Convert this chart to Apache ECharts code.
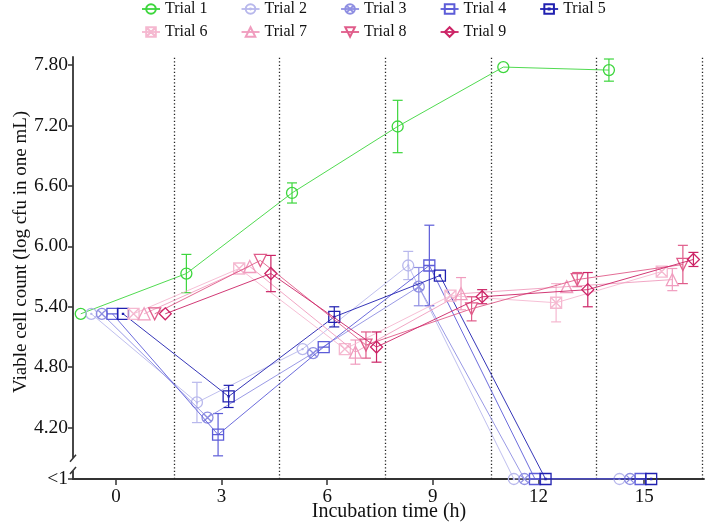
<!DOCTYPE html>
<html>
<head>
<meta charset="utf-8">
<script src="https://cdn.jsdelivr.net/npm/echarts@6/dist/echarts.min.js"></script>
<style>
html,body{margin:0;padding:0;background:#fff;}
#chart{width:709px;height:526px;}
</style>
</head>
<body>
<div id="chart"></div>
<script>
var times = [0, 3, 6, 9, 12, 15];
var LT1 = 3.69; // value drawn as "<1" on the y axis
var names = ['Trial 1','Trial 2','Trial 3','Trial 4','Trial 5','Trial 6','Trial 7','Trial 8','Trial 9'];

var trial1 = [5.33, 5.73, 6.53, 7.19, 7.78, 7.75];
var trial2 = [5.33, 4.45, 4.98, 5.81, LT1, LT1];
var trial3 = [5.33, 4.30, 4.94, 5.60, LT1, LT1];
var trial4 = [5.33, 4.13, 5.00, 5.81, LT1, LT1];
var trial5 = [5.33, 4.51, 5.30, 5.71, LT1, LT1];
var trial6 = [5.33, 5.78, 4.98, 5.51, 5.44, 5.75];
var trial7 = [5.33, 5.80, 4.95, 5.53, 5.60, 5.67];
var trial8 = [5.33, 5.86, 5.02, 5.38, 5.67, 5.82];
var trial9 = [5.33, 5.73, 5.00, 5.50, 5.57, 5.87];

var err1 = [0, 0.19, 0.10, 0.26, 0, 0.11];
var err2 = [0, 0.20, 0, 0.14, 0, 0];
var err3 = [0, 0, 0, 0.19, 0, 0];
var err4 = [0, 0.21, 0, 0.40, 0, 0];
var err5 = [0, 0.11, 0.10, 0, 0, 0];
var err6 = [0, 0, 0, 0, 0.19, 0];
var err7 = [0, 0, 0.12, 0.16, 0, 0.11];
var err8 = [0, 0, 0.13, 0.12, 0.07, 0.19];
var err9 = [0, 0.18, 0.15, 0.07, 0.17, 0.07];

var yTicks = [LT1, 4.2, 4.8, 5.4, 6.0, 6.6, 7.2, 7.8];
var xTicks = [0, 3, 6, 9, 12, 15];
var dividers = [1.65, 4.65, 7.65, 10.65, 13.65, 16.65];

var values = [trial1,trial2,trial3,trial4,trial5,trial6,trial7,trial8,trial9];
var errors = [err1,err2,err3,err4,err5,err6,err7,err8,err9];
var colors = ['#3dd63d','#b8b8ec','#8e8ee2','#5c5cd8','#2020b0','#f5b8d0','#f09cbe','#e05c8a','#cc2466'];

var circ = 'M0,10A10,10,0,1,0,20,10A10,10,0,1,0,0,10Z';
var sq = 'M0,0H20V20H0Z';
var symbols = [
	'path://' + circ,
	'path://' + circ + 'M9,10A1,1,0,1,0,11,10A1,1,0,1,0,9,10Z',
	'path://' + circ + 'M2.93,2.93L17.07,17.07M17.07,2.93L2.93,17.07',
	'path://' + sq + 'M0,10H20',
	'path://' + sq + 'M9,9H11V11H9Z',
	'path://' + sq + 'M0,0L20,20M20,0L0,20',
	'path://M10,0L20,17.3L0,17.3Z',
	'path://M0,0L20,0L10,17.3Z',
	'path://M10,0L20,10L10,20L0,10Z'
];

var font = 'Liberation Serif';
var series = [];
for (var i = 0; i < 9; i++) {
	var pts = [], bars = [];
	for (var j = 0; j < times.length; j++) {
		var x = times[j] - 1 + i * 0.3;   // dodge trials inside each time group
		pts.push([x, values[i][j]]);
		if (errors[i][j] > 0) bars.push([x, values[i][j], errors[i][j]]);
	}
	var s = {
		name: names[i],
		type: 'line',
		data: pts,
		symbol: symbols[i],
		symbolSize: (i >= 6 ? 12 : 11),
		z: 3 + i,
		lineStyle: {color: colors[i], width: 1, opacity: 0.9},
		itemStyle: {color: 'rgba(255,255,255,0)', borderColor: colors[i], borderWidth: 1.3},
		emphasis: {disabled: true},
		animation: false
	};
	if (i === 0) {
		s.markLine = {
			silent: true,
			symbol: ['none', 'none'],
			label: {show: false},
			lineStyle: {color: '#222', type: [1.3, 2.2], width: 1.3},
			data: dividers.map(function (d) { return {xAxis: d}; })
		};
	}
	series.push(s);
	series.push({
		type: 'custom',
		data: bars,
		z: 2 + i,
		silent: true,
		animation: false,
		renderItem: (function (c) {
			return function (params, api) {
				var x = api.value(0), y = api.value(1), e = api.value(2);
				var top = api.coord([x, y + e]);
				var bot = api.coord([x, y - e]);
				var st = {stroke: c, lineWidth: 1.2};
				return {type: 'group', children: [
					{type: 'line', shape: {x1: top[0], y1: top[1], x2: bot[0], y2: bot[1]}, style: st},
					{type: 'line', shape: {x1: top[0] - 5, y1: top[1], x2: top[0] + 5, y2: top[1]}, style: st},
					{type: 'line', shape: {x1: bot[0] - 5, y1: bot[1], x2: bot[0] + 5, y2: bot[1]}, style: st}
				]};
			};
		})(colors[i])
	});
}

var legendCommon = {
	left: 141,
	padding: 0,
	itemWidth: 18,
	itemHeight: 12,
	itemGap: 33,
	textStyle: {fontFamily: font, fontSize: 16, color: '#111'},
	selectedMode: false
};

var myChart = echarts.init(document.getElementById('chart'));
var option = {
	backgroundColor: '#fff',
	animation: false,
	grid: {left: 73, right: 5, top: 57, bottom: 47},
	legend: [
		Object.assign({}, legendCommon, {top: 1, data: names.slice(0, 5)}),
		Object.assign({}, legendCommon, {top: 24, data: names.slice(5)})
	],
	xAxis: {
		type: 'value',
		min: -1.22,
		max: 16.7,
		splitLine: {show: false},
		axisLine: {onZero: false, lineStyle: {color: '#333', width: 1.8}},
		axisTick: {length: 6, customValues: xTicks, lineStyle: {color: '#333', width: 1.5}},
		axisLabel: {customValues: xTicks, fontFamily: font, fontSize: 19, color: '#111', margin: 9}
	},
	yAxis: {
		type: 'value',
		min: LT1,
		max: 7.88,
		splitLine: {show: false},
		axisLine: {show: true, onZero: false, lineStyle: {color: '#333', width: 1.8}},
		axisTick: {show: true, length: 5, customValues: yTicks, lineStyle: {color: '#333', width: 1.5}},
		axisLabel: {
			customValues: yTicks, fontFamily: font, fontSize: 19.5, color: '#111', margin: 5,
			formatter: function (v) { return v < 4 ? '<1' : v.toFixed(2); }
		}
	},
	series: series
};
myChart.setOption(option);

// axis break marks and axis titles
var a = myChart.convertToPixel({gridIndex: 0}, [-1.22, 3.90]);
var b = myChart.convertToPixel({gridIndex: 0}, [-1.22, 3.77]);
myChart.setOption({
	graphic: [
		{type: 'rect', shape: {x: a[0] - 4, y: a[1], width: 8, height: b[1] - a[1]}, style: {fill: '#fff'}, z: 100},
		{type: 'line', shape: {x1: a[0] - 3, y1: a[1] + 4, x2: a[0] + 3, y2: a[1] - 3}, style: {stroke: '#333', lineWidth: 1.5}, z: 101},
		{type: 'line', shape: {x1: b[0] - 3, y1: b[1] + 3, x2: b[0] + 3, y2: b[1] - 4}, style: {stroke: '#333', lineWidth: 1.5}, z: 101},
		{type: 'text', x: 389, y: 512, style: {text: 'Incubation time (h)', font: '20px "Liberation Serif"', fill: '#111', align: 'center', verticalAlign: 'middle'}},
		{type: 'text', x: 21, y: 252, rotation: Math.PI / 2, style: {text: 'Viable cell count (log cfu in one mL)', font: '19px "Liberation Serif"', fill: '#111', align: 'center', verticalAlign: 'middle'}}
	]
});
</script>
</body>
</html>
